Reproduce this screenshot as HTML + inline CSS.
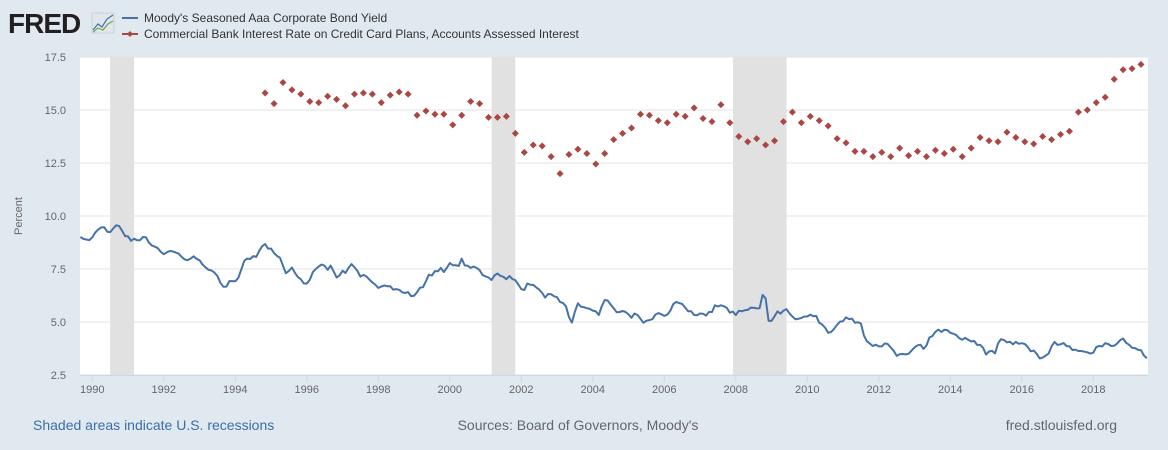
<!DOCTYPE html>
<html><head><meta charset="utf-8"><style>
body{margin:0;background:#e1e9f0;font-family:"Liberation Sans",sans-serif;}
#wrap{position:relative;width:1168px;height:450px;overflow:hidden;background:#e1e9f0}
</style></head><body>
<div id="wrap">
<svg id="chart" width="1168" height="450" xmlns="http://www.w3.org/2000/svg">
  <g>
    <text x="8" y="33" font-family="Liberation Sans, sans-serif" font-weight="bold" font-size="28" fill="#231f20" letter-spacing="-1">FRED</text>
    <rect x="92" y="13" width="22" height="20" fill="#dfe6ec" stroke="#c8d0d8"/>
    <polyline points="93,30 98,24 102,27 107,19 113,15" fill="none" stroke="#4572a7" stroke-width="1.2"/>
    <polyline points="93,32 98,28 103,30 108,24 113,21" fill="none" stroke="#6aa84f" stroke-width="1.2"/>
  </g>
  <g>
    <g>
      <line x1="122" y1="18" x2="138" y2="18" stroke="#4572a7" stroke-width="2"/>
      <text x="144" y="22" font-size="12" fill="#333">Moody's Seasoned Aaa Corporate Bond Yield</text>
    </g>
    <g>
      <line x1="122" y1="34" x2="138" y2="34" stroke="#aa4643" stroke-width="2"/>
      <path d="M130,31 L133,34 L130,37 L127,34Z" fill="#aa4643"/>
      <text x="144" y="38" font-size="12" fill="#333">Commercial Bank Interest Rate on Credit Card Plans, Accounts Assessed Interest</text>
    </g>
  </g>
  <rect x="80" y="57" width="1068" height="318" fill="#fff"/>
  <g id="rec"></g><g id="grid"></g><g id="xaxis"></g><g id="yaxis"></g>
  <g id="series"></g>
  <text transform="translate(22,216) rotate(-90)" text-anchor="middle" font-size="11" fill="#666">Percent</text>
  <text x="33" y="430" font-size="14" fill="#3c6ea8">Shaded areas indicate U.S. recessions</text>
  <text x="578" y="430" text-anchor="middle" font-size="14" fill="#666">Sources: Board of Governors, Moody's</text>
  <text x="1117" y="430" text-anchor="end" font-size="14" fill="#666">fred.stlouisfed.org</text>
</svg>
</div>
<script>
const yTicks=[2.5,5.0,7.5,10.0,12.5,15.0,17.5];
const xTicks=[1990,1992,1994,1996,1998,2000,2002,2004,2006,2008,2010,2012,2014,2016,2018];
const recessions=[[1990.5,1991.17],[2001.17,2001.83],[2007.92,2009.42]];
const aaaStart=1989+8/12;
const aaaValues=[9.01,8.92,8.89,8.86,
8.99,9.22,9.37,9.46,9.47,9.26,9.24,9.41,9.56,9.53,9.30,9.05,
9.04,8.83,8.93,8.86,8.86,9.01,9.00,8.75,8.61,8.55,8.48,8.31,
8.20,8.29,8.35,8.33,8.28,8.22,8.07,7.95,7.92,7.99,8.10,7.98,
7.91,7.71,7.58,7.46,7.43,7.33,7.17,6.85,6.66,6.67,6.93,6.93,
6.92,7.08,7.48,7.88,7.99,7.97,8.11,8.07,8.34,8.57,8.68,8.46,
8.46,8.26,8.12,8.03,7.65,7.30,7.41,7.57,7.32,7.12,7.02,6.82,
6.81,6.99,7.35,7.50,7.62,7.71,7.65,7.46,7.66,7.39,7.10,7.20,
7.42,7.31,7.55,7.73,7.58,7.41,7.14,7.22,7.15,7.00,6.87,6.76,
6.61,6.67,6.72,6.69,6.69,6.53,6.55,6.52,6.40,6.37,6.41,6.22,
6.24,6.40,6.62,6.64,6.93,7.23,7.19,7.40,7.39,7.55,7.36,7.55,
7.78,7.68,7.68,7.64,7.99,7.67,7.65,7.55,7.62,7.55,7.45,7.21,
7.15,7.10,6.98,7.20,7.29,7.18,7.13,7.02,7.17,7.03,6.97,6.77,
6.55,6.51,6.81,6.76,6.75,6.63,6.53,6.37,6.15,6.32,6.31,6.21,
6.17,5.95,5.89,5.74,5.22,4.97,5.49,5.88,5.72,5.70,5.65,5.62,
5.54,5.50,5.33,5.73,6.04,6.01,5.82,5.65,5.46,5.47,5.52,5.47,
5.36,5.20,5.40,5.33,5.15,4.96,5.06,5.09,5.13,5.35,5.42,5.37,
5.29,5.35,5.53,5.84,5.95,5.89,5.85,5.68,5.51,5.51,5.33,5.32,
5.40,5.39,5.30,5.47,5.47,5.79,5.73,5.79,5.74,5.66,5.44,5.49,
5.33,5.53,5.51,5.55,5.57,5.68,5.67,5.64,5.65,6.28,6.12,5.05,
5.05,5.27,5.50,5.39,5.54,5.61,5.41,5.26,5.13,5.15,5.19,5.26,
5.26,5.35,5.27,5.29,4.96,4.88,4.72,4.49,4.53,4.68,4.87,5.02,
5.04,5.22,5.13,5.16,4.96,4.99,4.93,4.37,4.09,3.98,3.87,3.93,
3.85,3.85,3.99,3.96,3.80,3.64,3.40,3.48,3.49,3.47,3.50,3.65,
3.80,3.90,3.93,3.73,3.89,4.27,4.34,4.54,4.64,4.53,4.63,4.62,
4.49,4.45,4.38,4.24,4.16,4.25,4.16,4.08,4.11,3.92,3.92,3.79,
3.46,3.61,3.64,3.52,3.98,4.19,4.15,4.04,4.07,3.95,4.06,3.97,
4.00,3.96,3.82,3.62,3.65,3.50,3.28,3.32,3.41,3.51,3.86,4.06,
3.92,3.95,4.01,3.87,3.85,3.68,3.70,3.63,3.63,3.60,3.57,3.51,
3.55,3.82,3.87,3.85,4.00,3.96,3.87,3.88,3.98,4.14,4.22,4.02,
3.93,3.79,3.77,3.69,3.67,3.42,3.29];
const ccStart=1994+10/12;
const ccValues=[15.8,15.3,16.3,15.95,15.75,15.4,15.35,15.65,15.5,15.2,15.75,15.8,15.75,15.35,15.7,15.85,15.75,
14.75,14.95,14.8,14.8,14.3,14.75,15.4,15.3,14.65,14.65,14.7,13.9,13.0,13.35,13.3,12.8,12.0,12.9,13.15,12.95,
12.45,12.95,13.6,13.9,14.15,14.8,14.75,14.5,14.4,14.8,14.7,15.1,14.6,14.45,15.25,14.4,13.75,13.5,13.65,13.35,
13.55,14.45,14.9,14.4,14.7,14.5,14.25,13.65,13.45,13.05,13.05,12.8,13.0,12.8,13.2,12.85,13.05,12.8,13.1,12.95,
13.15,12.8,13.2,13.7,13.55,13.5,13.95,13.7,13.5,13.4,13.75,13.6,13.85,14.0,14.9,15.0,15.35,15.6,16.45,16.9,16.95,17.15];

const X=t=>92.3+(t-1990)*35.75;
const Y=v=>375-(v-2.5)*21.2;
const NS="http://www.w3.org/2000/svg";
function mk(tag,parent,attrs){const e=document.createElementNS(NS,tag);for(const k in attrs)e.setAttribute(k,attrs[k]);document.getElementById(parent).appendChild(e);return e;}

recessions.forEach(r=>{
  const e=mk('rect','rec',{x:X(r[0]),y:57,width:X(r[1])-X(r[0]),height:318,fill:'#e1e1e1'});
  
  
});
yTicks.forEach(v=>{
  const l=mk('line','grid',{x1:80,x2:1148,y1:Y(v),y2:Y(v),stroke:'#e3e3e3','stroke-width':1});
  
  
  const t=mk('text','yaxis',{x:66,y:Y(v)+4,'text-anchor':'end','font-size':11,fill:'#666'});
  t.textContent=v.toFixed(1);
  
  
});
const ax=mk('line','xaxis',{x1:80,x2:1148,y1:375.5,y2:375.5,stroke:'#ccd6eb'});


xTicks.forEach(yr=>{
  const l=mk('line','xaxis',{x1:X(yr),x2:X(yr),y1:375,y2:382,stroke:'#ccd6eb'});
  
  
  const t=mk('text','xaxis',{x:X(yr),y:393,'text-anchor':'middle','font-size':11,fill:'#666'});
  t.textContent=yr;
  
  
});
const pts=aaaValues.map((v,i)=>X(aaaStart+i/12).toFixed(1)+','+Y(v).toFixed(1)).join(' ');
const pl=mk('polyline','series',{points:pts,fill:'none',stroke:'#4572a7','stroke-width':2,'stroke-linejoin':'round'});


ccValues.forEach((v,i)=>{
  const cx=X(ccStart+i*0.25),cy=Y(v);
  const d=mk('path','series',{d:`M${cx},${cy-3.5}L${cx+3.5},${cy}L${cx},${cy+3.5}L${cx-3.5},${cy}Z`,fill:'#aa4643'});
  
  
});
</script>
</body></html>
